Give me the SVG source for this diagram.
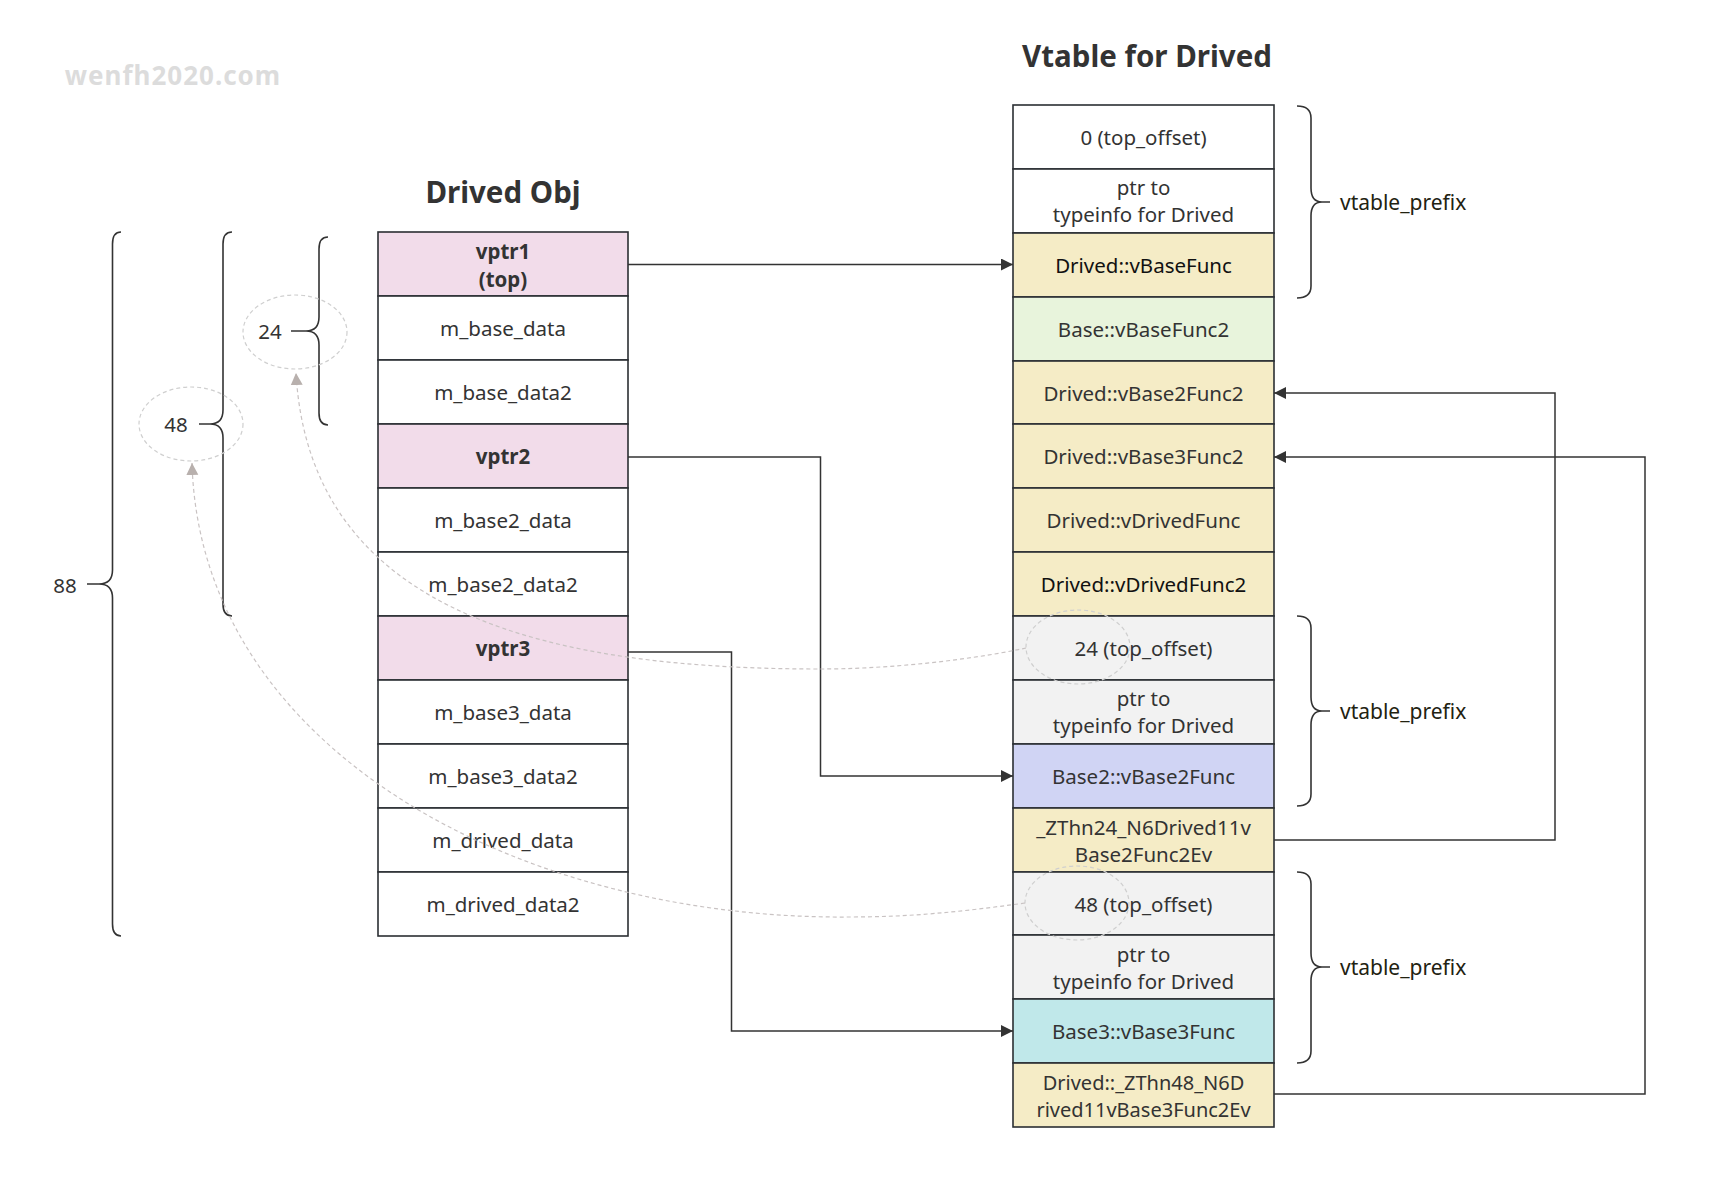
<svg xmlns="http://www.w3.org/2000/svg" width="1734" height="1192" viewBox="0 0 1734 1192">
<style>
text{font-family:"Noto Sans","Liberation Sans",sans-serif;font-size:20.5px;fill:#333;text-anchor:middle;dominant-baseline:central}
.b{font-weight:bold}
.title{font-size:29.5px;font-weight:bold;fill:#333}
.wm{font-size:26px;font-weight:bold;fill:#dcdcdc;letter-spacing:1px}
.lbl{text-anchor:start;font-size:21px;fill:#222211}
.cell{stroke:#2b2f33;stroke-width:1.6}
.w{fill:#ffffff}.p{fill:#f2dcea}.y{fill:#f5ecc6}.g{fill:#e8f4dc}.gr{fill:#f2f2f2}.bl{fill:#d0d4f4}.cy{fill:#c0e8ea}
.brace{fill:none;stroke:#333;stroke-width:1.6}
.conn{fill:none;stroke:#333;stroke-width:1.5}
.dash{fill:none;stroke:#c9c3c3;stroke-width:1.2;stroke-dasharray:4 3}
.ell{fill:none;stroke:#cfcfcf;stroke-width:1.2;stroke-dasharray:4 3}
</style>
<defs>
<marker id="arr" viewBox="0 0 10 10" refX="10" refY="5" markerWidth="12" markerHeight="12" markerUnits="userSpaceOnUse" orient="auto">
<path d="M0,0 L10,5 L0,10 z" fill="#333"/>
</marker>
<marker id="arrg" viewBox="0 0 10 10" refX="10" refY="5" markerWidth="12" markerHeight="14" markerUnits="userSpaceOnUse" orient="auto">
<path d="M0,0 L10,5 L0,10 z" fill="#b8b0ad"/>
</marker>
</defs>
<rect width="1734" height="1192" fill="#ffffff"/>

<text class="wm" x="173" y="75">wenfh2020.com</text>
<text class="title" x="503" y="191">Drived Obj</text>
<text class="title" x="1147" y="55">Vtable for Drived</text>

<g id="obj">
<g id="obj-vptr1"><rect class="cell p" x="378" y="232" width="250" height="64"/><text class="b" x="503" y="251">vptr1</text><text class="b" x="503" y="279">(top)</text></g>
<g id="obj-m_base_data"><rect class="cell w" x="378" y="296" width="250" height="64"/><text x="503" y="328">m_base_data</text></g>
<g id="obj-m_base_data2"><rect class="cell w" x="378" y="360" width="250" height="64"/><text x="503" y="392">m_base_data2</text></g>
<g id="obj-vptr2"><rect class="cell p" x="378" y="424" width="250" height="64"/><text class="b" x="503" y="456">vptr2</text></g>
<g id="obj-m_base2_data"><rect class="cell w" x="378" y="488" width="250" height="64"/><text x="503" y="520">m_base2_data</text></g>
<g id="obj-m_base2_data2"><rect class="cell w" x="378" y="552" width="250" height="64"/><text x="503" y="584">m_base2_data2</text></g>
<g id="obj-vptr3"><rect class="cell p" x="378" y="616" width="250" height="64"/><text class="b" x="503" y="648">vptr3</text></g>
<g id="obj-m_base3_data"><rect class="cell w" x="378" y="680" width="250" height="64"/><text x="503" y="712">m_base3_data</text></g>
<g id="obj-m_base3_data2"><rect class="cell w" x="378" y="744" width="250" height="64"/><text x="503" y="776">m_base3_data2</text></g>
<g id="obj-m_drived_data"><rect class="cell w" x="378" y="808" width="250" height="64"/><text x="503" y="840">m_drived_data</text></g>
<g id="obj-m_drived_data2"><rect class="cell w" x="378" y="872" width="250" height="64"/><text x="503" y="904">m_drived_data2</text></g>
</g>

<g id="vtable">
<g id="vt-0"><rect class="cell w" x="1013" y="105" width="261" height="64"/><text x="1143.5" y="137">0 (top_offset)</text></g>
<g id="vt-1"><rect class="cell w" x="1013" y="169" width="261" height="64"/><text x="1143.5" y="187">ptr to</text><text x="1143.5" y="214">typeinfo for Drived</text></g>
<g id="vt-2"><rect class="cell y" x="1013" y="233" width="261" height="64"/><text x="1143.5" y="265" style="fill:#111">Drived::vBaseFunc</text></g>
<g id="vt-3"><rect class="cell g" x="1013" y="297" width="261" height="64"/><text x="1143.5" y="329">Base::vBaseFunc2</text></g>
<g id="vt-4"><rect class="cell y" x="1013" y="361" width="261" height="63"/><text x="1143.5" y="392.5">Drived::vBase2Func2</text></g>
<g id="vt-5"><rect class="cell y" x="1013" y="424" width="261" height="64"/><text x="1143.5" y="456">Drived::vBase3Func2</text></g>
<g id="vt-6"><rect class="cell y" x="1013" y="488" width="261" height="64"/><text x="1143.5" y="520">Drived::vDrivedFunc</text></g>
<g id="vt-7"><rect class="cell y" x="1013" y="552" width="261" height="64"/><text x="1143.5" y="584" style="fill:#111">Drived::vDrivedFunc2</text></g>
<g id="vt-8"><rect class="cell gr" x="1013" y="616" width="261" height="64"/><text x="1143.5" y="648">24 (top_offset)</text></g>
<g id="vt-9"><rect class="cell gr" x="1013" y="680" width="261" height="64"/><text x="1143.5" y="698">ptr to</text><text x="1143.5" y="725">typeinfo for Drived</text></g>
<g id="vt-10"><rect class="cell bl" x="1013" y="744" width="261" height="64"/><text x="1143.5" y="776">Base2::vBase2Func</text></g>
<g id="vt-11"><rect class="cell y" x="1013" y="808" width="261" height="64"/><text x="1143.5" y="827">_ZThn24_N6Drived11v</text><text x="1143.5" y="854">Base2Func2Ev</text></g>
<g id="vt-12"><rect class="cell gr" x="1013" y="872" width="261" height="63"/><text x="1143.5" y="903.5">48 (top_offset)</text></g>
<g id="vt-13"><rect class="cell gr" x="1013" y="935" width="261" height="64"/><text x="1143.5" y="954">ptr to</text><text x="1143.5" y="981">typeinfo for Drived</text></g>
<g id="vt-14"><rect class="cell cy" x="1013" y="999" width="261" height="64"/><text x="1143.5" y="1031">Base3::vBase3Func</text></g>
<g id="vt-15"><rect class="cell y" x="1013" y="1063" width="261" height="64"/><text x="1143.5" y="1082" style="font-size:20px">Drived::_ZThn48_N6D</text><text x="1143.5" y="1109" style="font-size:20px">rived11vBase3Func2Ev</text></g>
</g>

<g id="braces">
<g id="brace-24"><path class="brace" d="M328,237 Q319,237 319,249 L319,317 Q319,331 306,331 L291,331 M306,331 Q319,331 319,345 L319,413 Q319,425 328,425"/><text x="270" y="331">24</text></g>
<g id="brace-48"><path class="brace" d="M232,232 Q223,232 223,244 L223,410 Q223,424 210,424 L199,424 M210,424 Q223,424 223,438 L223,604 Q223,616 232,616"/><text x="176" y="424">48</text></g>
<g id="brace-88"><path class="brace" d="M121,232 Q112.5,232 112.5,244 L112.5,570 Q112.5,584 99,584 L87,584 M99,584 Q112.5,584 112.5,598 L112.5,924 Q112.5,936 121,936"/><text x="65" y="585">88</text></g>
<g id="brace-prefix1"><path class="brace" d="M1297,106 Q1311,106 1311,118 L1311,188 Q1311,202 1322,202 L1330,202 M1322,202 Q1311,202 1311,216 L1311,286 Q1311,298 1297,298"/><text class="lbl" x="1340" y="202">vtable_prefix</text></g>
<g id="brace-prefix2"><path class="brace" d="M1297,616 Q1311,616 1311,628 L1311,697 Q1311,711 1322,711 L1330,711 M1322,711 Q1311,711 1311,725 L1311,794 Q1311,806 1297,806"/><text class="lbl" x="1340" y="711">vtable_prefix</text></g>
<g id="brace-prefix3"><path class="brace" d="M1297,872 Q1311,872 1311,884 L1311,953 Q1311,967 1322,967 L1330,967 M1322,967 Q1311,967 1311,981 L1311,1051 Q1311,1063 1297,1063"/><text class="lbl" x="1340" y="967">vtable_prefix</text></g>
</g>

<g id="highlights">
<ellipse class="ell" cx="295" cy="332" rx="52" ry="37"/>
<ellipse class="ell" cx="191" cy="424" rx="52" ry="37"/>
<ellipse class="ell" cx="1078" cy="647" rx="52" ry="37"/>
<ellipse class="ell" cx="1077" cy="903" rx="52" ry="37"/>
</g>

<g id="connectors">
<path class="conn" d="M628,264.5 L1013,264.5" marker-end="url(#arr)"/>
<path class="conn" d="M628,457 L820.5,457 L820.5,776 L1013,776" marker-end="url(#arr)"/>
<path class="conn" d="M628,652 L731.5,652 L731.5,1031 L1013,1031" marker-end="url(#arr)"/>
<path class="conn" d="M1274,840 L1555,840 L1555,393 L1274,393" marker-end="url(#arr)"/>
<path class="conn" d="M1274,1094 L1645,1094 L1645,457 L1274,457" marker-end="url(#arr)"/>
<path class="dash" d="M1026,648 C960,662 880,669 820,669 C560,669 310,620 296,373" marker-end="url(#arrg)"/>
<path class="dash" d="M1025,903 C960,912 910,917 850,917 C520,920 200,750 192,463" marker-end="url(#arrg)"/>
</g>
</svg>
